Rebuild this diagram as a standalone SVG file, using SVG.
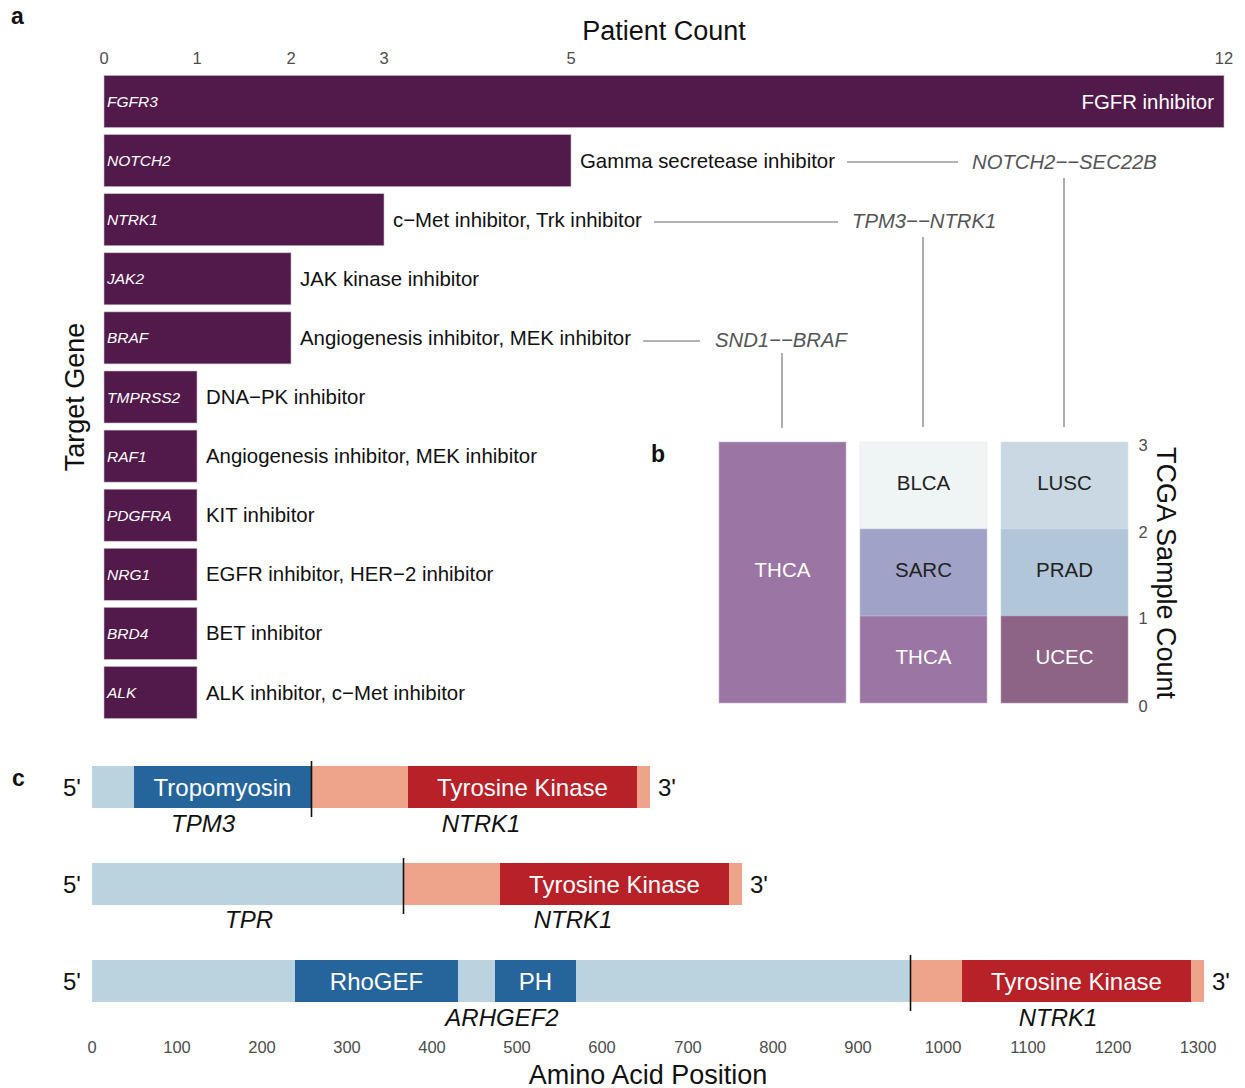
<svg xmlns="http://www.w3.org/2000/svg" width="1245" height="1088" viewBox="0 0 1245 1088">
<style>
text{font-family:"Liberation Sans",Arial,sans-serif;}
.bar{fill:#521a4a;stroke:#c9b8c6;stroke-width:0.6;}
.gene{fill:#fff;font-style:italic;font-size:15.5px;}
.lab{fill:#111;font-size:20.4px;}
.tick{fill:#4d4d4d;font-size:16.5px;}
.title{fill:#111;font-size:27px;}
.panel{fill:#111;font-size:23px;font-weight:bold;}
.fus{fill:#555;font-style:italic;font-size:20.3px;}
.conn{stroke:#9a9a9a;stroke-width:1.6;fill:none;}
.ct{font-size:20.5px;text-anchor:middle;}
.lb{fill:#bad3de;}.db{fill:#26649c;}.sal{fill:#eda48a;}.red{fill:#b82128;}
.dom{fill:#fff;font-size:24px;text-anchor:middle;}
.end{fill:#111;font-size:24px;}
.gl{fill:#111;font-size:24px;font-style:italic;text-anchor:middle;}
.brk{stroke:#111;stroke-width:1.6;}
</style>

<text class="panel" x="11" y="24">a</text>
<text class="title" x="664" y="40" text-anchor="middle">Patient Count</text>
<g id="top-axis" class="tick" text-anchor="middle">
<text x="104" y="64">0</text><text x="197" y="64">1</text><text x="291" y="64">2</text><text x="384" y="64">3</text><text x="571" y="64">5</text><text x="1224" y="64">12</text>
</g>
<text class="title" transform="translate(84,397) rotate(-90)" text-anchor="middle">Target Gene</text>

<g id="bar-FGFR3"><rect class="bar" x="104" y="75.5" width="1120" height="52"/><text class="gene" x="107" y="107">FGFR3</text><text x="1214" y="109" text-anchor="end" fill="#fff" font-size="20.4">FGFR inhibitor</text></g>
<g id="bar-NOTCH2"><rect class="bar" x="104" y="134.6" width="467" height="52"/><text class="gene" x="107" y="166">NOTCH2</text><text class="lab" x="580" y="168">Gamma secretease inhibitor</text></g>
<g id="bar-NTRK1"><rect class="bar" x="104" y="193.7" width="280" height="52"/><text class="gene" x="107" y="225">NTRK1</text><text class="lab" x="393" y="227">c−Met inhibitor, Trk inhibitor</text></g>
<g id="bar-JAK2"><rect class="bar" x="104" y="252.8" width="187" height="52"/><text class="gene" x="107" y="284">JAK2</text><text class="lab" x="300" y="286">JAK kinase inhibitor</text></g>
<g id="bar-BRAF"><rect class="bar" x="104" y="311.9" width="187" height="52"/><text class="gene" x="107" y="343">BRAF</text><text class="lab" x="300" y="345">Angiogenesis inhibitor, MEK inhibitor</text></g>
<g id="bar-TMPRSS2"><rect class="bar" x="104" y="371" width="93" height="52"/><text class="gene" x="107" y="402.5">TMPRSS2</text><text class="lab" x="206" y="404">DNA−PK inhibitor</text></g>
<g id="bar-RAF1"><rect class="bar" x="104" y="430.1" width="93" height="52"/><text class="gene" x="107" y="461.5">RAF1</text><text class="lab" x="206" y="463">Angiogenesis inhibitor, MEK inhibitor</text></g>
<g id="bar-PDGFRA"><rect class="bar" x="104" y="489.2" width="93" height="52"/><text class="gene" x="107" y="520.5">PDGFRA</text><text class="lab" x="206" y="522">KIT inhibitor</text></g>
<g id="bar-NRG1"><rect class="bar" x="104" y="548.3" width="93" height="52"/><text class="gene" x="107" y="579.5">NRG1</text><text class="lab" x="206" y="581">EGFR inhibitor, HER−2 inhibitor</text></g>
<g id="bar-BRD4"><rect class="bar" x="104" y="607.4" width="93" height="52"/><text class="gene" x="107" y="638.5">BRD4</text><text class="lab" x="206" y="640">BET inhibitor</text></g>
<g id="bar-ALK"><rect class="bar" x="104" y="666.5" width="93" height="52"/><text class="gene" x="107" y="698">ALK</text><text class="lab" x="206" y="700">ALK inhibitor, c−Met inhibitor</text></g>

<g id="fusion-NOTCH2-SEC22B"><text class="fus" x="972" y="169">NOTCH2−−SEC22B</text></g>
<g id="fusion-TPM3-NTRK1"><text class="fus" x="852" y="228">TPM3−−NTRK1</text></g>
<g id="fusion-SND1-BRAF"><text class="fus" x="715" y="347">SND1−−BRAF</text></g>

<g id="connectors">
<line class="conn" x1="847" y1="162" x2="958" y2="162"/>
<line class="conn" x1="1064" y1="178" x2="1064" y2="427"/>
<line class="conn" x1="654" y1="222" x2="838" y2="222"/>
<line class="conn" x1="923" y1="237" x2="923" y2="427"/>
<line class="conn" x1="643" y1="341" x2="700" y2="341"/>
<line class="conn" x1="782" y1="353" x2="782" y2="428"/>
</g>

<text class="panel" x="651" y="462">b</text>
<g id="col-SND1-BRAF">
<rect x="719" y="442" width="127" height="261" fill="#9b76a4" stroke="#c8b5cc" stroke-width="0.6"/>
<text class="ct" x="782.5" y="577" fill="#fff">THCA</text>
</g>
<g id="col-TPM3-NTRK1">
<rect x="860" y="442" width="127" height="87" fill="#eff4f5" stroke="#e4eaec" stroke-width="0.6"/>
<rect x="860" y="529" width="127" height="87" fill="#a0a3c7" stroke="#c5c7de" stroke-width="0.6"/>
<rect x="860" y="616" width="127" height="87" fill="#9b76a4" stroke="#c8b5cc" stroke-width="0.6"/>
<text class="ct" x="923.5" y="490" fill="#222">BLCA</text>
<text class="ct" x="923.5" y="577" fill="#222">SARC</text>
<text class="ct" x="923.5" y="664" fill="#fff">THCA</text>
</g>
<g id="col-NOTCH2-SEC22B">
<rect x="1001" y="442" width="127" height="87" fill="#c9d8e2" stroke="#dbe5ec" stroke-width="0.6"/>
<rect x="1001" y="529" width="127" height="87" fill="#b1c6d8" stroke="#cad8e4" stroke-width="0.6"/>
<rect x="1001" y="616" width="127" height="87" fill="#8d6386" stroke="#b59bb0" stroke-width="0.6"/>
<text class="ct" x="1064.5" y="490" fill="#222">LUSC</text>
<text class="ct" x="1064.5" y="577" fill="#222">PRAD</text>
<text class="ct" x="1064.5" y="664" fill="#fff">UCEC</text>
</g>
<g id="b-axis" class="tick" text-anchor="middle">
<text x="1143" y="451">3</text><text x="1143" y="538">2</text><text x="1143" y="624">1</text><text x="1143" y="712">0</text>
</g>
<text class="title" transform="translate(1157,573) rotate(90)" text-anchor="middle" font-size="27.5">TCGA Sample Count</text>

<text class="panel" x="12" y="786">c</text>
<g id="fusion-row-TPM3-NTRK1">
<rect class="lb" x="92" y="766" width="42" height="42"/>
<rect class="db" x="134" y="766" width="177" height="42"/>
<rect class="sal" x="311" y="766" width="339" height="42"/>
<rect class="red" x="408" y="766" width="229" height="42"/>
<line class="brk" x1="311.5" y1="761" x2="311.5" y2="817"/>
<text class="dom" x="222.5" y="796">Tropomyosin</text>
<text class="dom" x="522.5" y="796">Tyrosine Kinase</text>
<text class="end" x="63" y="796">5'</text><text class="end" x="658" y="796">3'</text>
<text class="gl" x="203" y="832">TPM3</text><text class="gl" x="481" y="832">NTRK1</text>
</g>
<g id="fusion-row-TPR-NTRK1">
<rect class="lb" x="92" y="863" width="311" height="42"/>
<rect class="sal" x="403" y="863" width="339" height="42"/>
<rect class="red" x="500" y="863" width="229" height="42"/>
<line class="brk" x1="403.5" y1="858" x2="403.5" y2="914"/>
<text class="dom" x="614.5" y="893">Tyrosine Kinase</text>
<text class="end" x="63" y="893">5'</text><text class="end" x="750" y="893">3'</text>
<text class="gl" x="249" y="928">TPR</text><text class="gl" x="573" y="928">NTRK1</text>
</g>
<g id="fusion-row-ARHGEF2-NTRK1">
<rect class="lb" x="92" y="960" width="818" height="42"/>
<rect class="db" x="295" y="960" width="163" height="42"/>
<rect class="db" x="495" y="960" width="81" height="42"/>
<rect class="sal" x="910" y="960" width="294" height="42"/>
<rect class="red" x="962" y="960" width="229" height="42"/>
<line class="brk" x1="910.5" y1="955" x2="910.5" y2="1011"/>
<text class="dom" x="376.5" y="990">RhoGEF</text>
<text class="dom" x="535.5" y="990">PH</text>
<text class="dom" x="1076.5" y="990">Tyrosine Kinase</text>
<text class="end" x="63" y="990">5'</text><text class="end" x="1212" y="990">3'</text>
<text class="gl" x="502" y="1026">ARHGEF2</text><text class="gl" x="1058" y="1026">NTRK1</text>
</g>
<g id="bottom-axis" class="tick" text-anchor="middle">
<text x="92" y="1053">0</text><text x="177" y="1053">100</text><text x="262" y="1053">200</text><text x="347" y="1053">300</text><text x="432" y="1053">400</text><text x="517" y="1053">500</text><text x="602" y="1053">600</text><text x="688" y="1053">700</text><text x="773" y="1053">800</text><text x="858" y="1053">900</text><text x="943" y="1053">1000</text><text x="1028" y="1053">1100</text><text x="1113" y="1053">1200</text><text x="1198" y="1053">1300</text>
</g>
<text class="title" x="648" y="1084" text-anchor="middle">Amino Acid Position</text>
</svg>
